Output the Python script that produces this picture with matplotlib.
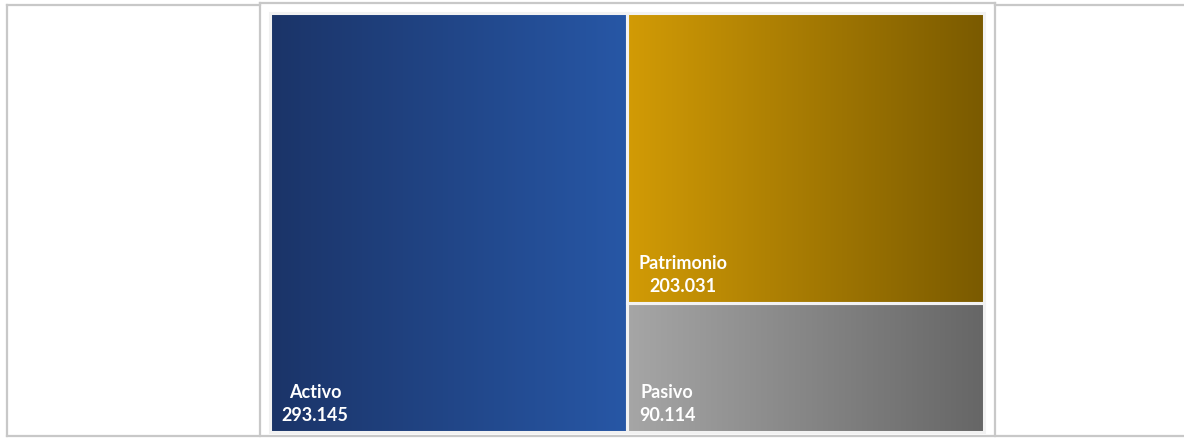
import numpy as np
import matplotlib
matplotlib.use("Agg")
import matplotlib.pyplot as plt
from matplotlib.colors import LinearSegmentedColormap
from matplotlib.lines import Line2D
from matplotlib.patches import Rectangle

# Balance sheet totals
labels = ["Activo", "Patrimonio", "Pasivo"]
values = [293.145, 203.031, 90.114]
value_text = ["293.145", "203.031", "90.114"]

# Horizontal gradient (left colour, right colour) per tile
grad_left = ["#1b3468", "#d29b06", "#a6a6a6"]
grad_right = ["#2757a6", "#7a5a00", "#666666"]

W, H = 1184, 439
fig = plt.figure(figsize=(W / 100, H / 100), dpi=100)
fig.patch.set_facecolor("white")


def fx(px):
    return px / W


def fy(py):
    return 1 - py / H


# Frame lines around the chart
line_kw = dict(color="#c8c8c8", lw=1.6, transform=fig.transFigure)
fig.add_artist(Line2D([fx(7), fx(260)], [fy(6), fy(6)], **line_kw))
fig.add_artist(Line2D([fx(260), fx(995)], [fy(4), fy(4)], **line_kw))
fig.add_artist(Line2D([fx(995), fx(1184)], [fy(6), fy(6)], **line_kw))
fig.add_artist(Line2D([fx(7), fx(7)], [fy(6), fy(437)], **line_kw))
fig.add_artist(Line2D([fx(260), fx(260)], [fy(4), fy(437)], **line_kw))
fig.add_artist(Line2D([fx(995), fx(995)], [fy(4), fy(437)], **line_kw))
fig.add_artist(Line2D([fx(7), fx(1184)], [fy(437), fy(437)], **line_kw))

# Treemap area
ax = fig.add_axes([fx(270), 1 - 433 / H, 714 / W, 419 / H])
ax.set_xlim(0, 1)
ax.set_ylim(0, 1)
ax.axis("off")

# Slice layout: first value takes a full-height column, the rest stack vertically
total = sum(values)
w0 = values[0] / total
rects = [(0.0, 0.0, w0, 1.0)]
rest = sum(values[1:])
top = 1.0
for v in values[1:]:
    h = v / rest
    rects.append((w0, top - h, 1 - w0, h))
    top -= h

grad = np.linspace(0, 1, 256).reshape(1, -1)
for i, (x, y, w, h) in enumerate(rects):
    cmap = LinearSegmentedColormap.from_list(f"g{i}", [grad_left[i], grad_right[i]])
    ax.imshow(grad, cmap=cmap, extent=(x, x + w, y, y + h), aspect="auto",
              interpolation="bilinear", zorder=1)
    ax.add_patch(Rectangle((x, y), w, h, fill=False, edgecolor="#f2f2f2",
                           lw=2.2, zorder=2, clip_on=False))
    ax.annotate(f"{labels[i]}\n{value_text[i]}", xy=(x, y), xytext=(8.5, 6.5),
                textcoords="offset points", ha="left", va="bottom",
                multialignment="center", color="white", fontsize=13,
                fontweight="bold", family=["Lato", "DejaVu Sans"],
                linespacing=1.45, zorder=3)

ax.set_xlim(0, 1)
ax.set_ylim(0, 1)
fig.savefig("out.png", dpi=100, facecolor="white")
